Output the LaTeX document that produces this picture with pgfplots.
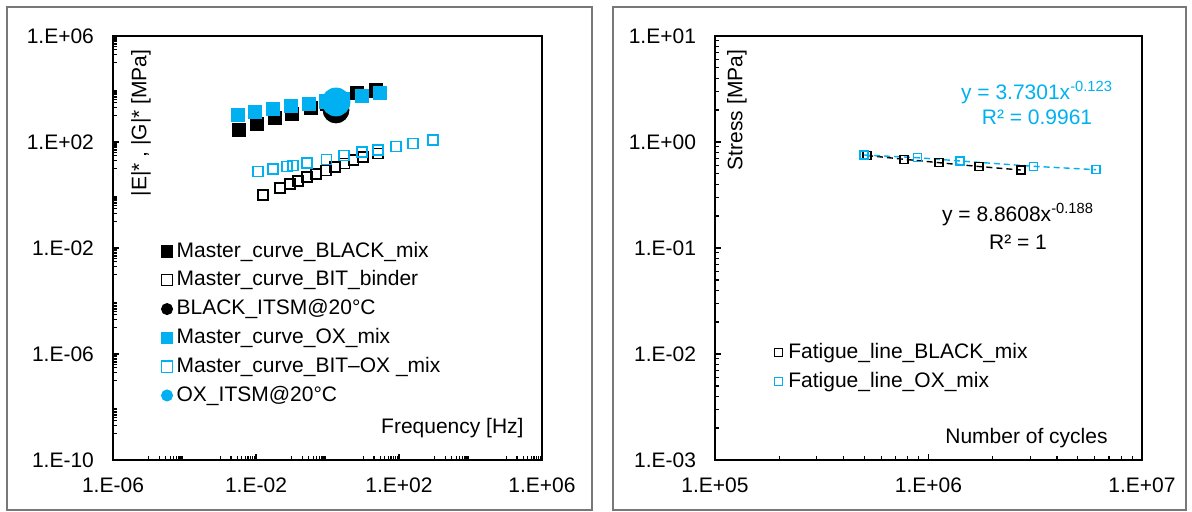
\documentclass[border=0pt]{standalone}
\usepackage{fontspec}
\setmainfont{Liberation Sans}
\usepackage{pgfplots}
\pgfplotsset{compat=1.18}
\definecolor{xblue}{RGB}{0,176,240}
\definecolor{framegray}{RGB}{120,120,120}
\newcommand\lf{\fontsize{10.5}{12.6}\selectfont}
\begin{document}
\begin{tikzpicture}
\path[use as bounding box] (0pt,0pt) rectangle (596pt,256pt);
\draw[framegray, line width=0.75pt] (3.5pt,1pt) rectangle (296pt,252.5pt);
\draw[framegray, line width=0.75pt] (306.5pt,1pt) rectangle (593pt,252.5pt);

% ---------------- left chart ----------------
\begin{axis}[xmode=log, ymode=log, scale only axis,
  at={(56.5pt,26pt)}, anchor=south west, width=214.5pt, height=212pt,
  axis line style={line width=0.9pt},
  tick style={black, line width=0.6pt},
  major tick length=3pt, minor tick length=2pt,
  tick pos=left,
  ticklabel style={font=\lf},
  yticklabel style={xshift=-6pt},
  xticklabel style={yshift=-5.5pt},
  xmin=1e-6, xmax=1e6, ymin=1e-10, ymax=1e6,
  xtick={1e-6,1e-2,1e2,1e6}, xticklabels={1.E-06,1.E-02,1.E+02,1.E+06},
  ytick={1e-10,1e-6,1e-2,1e2,1e6}, yticklabels={1.E-10,1.E-06,1.E-02,1.E+02,1.E+06},
  minor xtick={1e-5,2e-5,3e-5,4e-5,5e-5,6e-5,7e-5,8e-5,9e-5,
    1e-3,2e-3,3e-3,4e-3,5e-3,6e-3,7e-3,8e-3,9e-3,
    0.1,0.2,0.3,0.4,0.5,0.6,0.7,0.8,0.9,
    10,20,30,40,50,60,70,80,90,
    1e3,2e3,3e3,4e3,5e3,6e3,7e3,8e3,9e3,
    1e5,2e5,3e5,4e5,5e5,6e5,7e5,8e5,9e5},
  minor ytick={1e-9,2e-9,3e-9,4e-9,5e-9,6e-9,7e-9,8e-9,9e-9,
    1e-7,2e-7,3e-7,4e-7,5e-7,6e-7,7e-7,8e-7,9e-7,
    1e-5,2e-5,3e-5,4e-5,5e-5,6e-5,7e-5,8e-5,9e-5,
    1e-3,2e-3,3e-3,4e-3,5e-3,6e-3,7e-3,8e-3,9e-3,
    0.1,0.2,0.3,0.4,0.5,0.6,0.7,0.8,0.9,
    10,20,30,40,50,60,70,80,90,
    1e3,2e3,3e3,4e3,5e3,6e3,7e3,8e3,9e3,
    1e5,2e5,3e5,4e5,5e5,6e5,7e5,8e5,9e5},
  legend cell align=left,
  legend style={at={(0.112,0.522)}, anchor=north west, draw=none, fill=none, inner sep=0pt,
    font=\lf, column sep=1pt, row sep=2pt, nodes={inner sep=1pt, text height=8pt, text depth=2.4pt}},
  legend image code/.code={\draw[#1, mark size=2.8pt] plot coordinates {(0pt,0pt)};},
]
\addplot[only marks, mark=square*, black, mark size=3.3pt] coordinates {
 (3.34e-3,284) (0.01067,478) (0.0340,805) (0.1016,1140) (0.345,1919)
 (0.968,2692) (2.55,4169) (6.68,7063) (22.7,8913)};
\addlegendentry{Master\_curve\_BLACK\_mix}
\addplot[only marks, mark=square, black, mark size=2.5pt, line width=0.6pt] coordinates {
 (0.0157,1.0) (0.0469,1.837) (0.0893,2.60) (0.1496,3.37) (0.267,4.78) (0.476,6.19)
 (0.908,8.41) (1.622,11.40) (2.99,15.45) (5.33,20.9) (9.84,27.2) (25.9,36.8)};
\addlegendentry{Master\_curve\_BIT\_binder}
\addplot[only marks, mark=*, black, mark size=6.5pt] coordinates {(1.73,1614)};
\addlegendentry{BLACK\_ITSM@20°C}
\addplot[only marks, mark=square*, xblue, mark size=3.3pt] coordinates {
 (3.14e-3,1045) (9.38e-3,1355) (0.0299,1758) (0.0953,2280) (0.304,2716)
 (0.908,3388) (2.72,4266) (9.23,5445) (29.4,7063)};
\addlegendentry{Master\_curve\_OX\_mix}
\addplot[only marks, mark=square, xblue, mark size=2.5pt, line width=0.6pt] coordinates {
 (0.01138,7.57) (0.0299,9.57) (0.0736,11.89) (0.1084,12.97) (0.267,16.14) (0.938,21.9)
 (2.90,30.97) (9.23,42.0) (25.9,49.9) (82.4,67.6) (246.6,87.7) (893,118.9)};
\addlegendentry{Master\_curve\_BIT–OX \_mix}
\addplot[only marks, mark=*, xblue, mark size=7pt] coordinates {(1.73,3236)};
\addlegendentry{OX\_ITSM@20°C}
\end{axis}
\node[rotate=90, font=\lf, inner sep=0pt] at (70.5pt,194.5pt) {|E|* , |G|* [MPa]};
\node[anchor=east, font=\lf, inner sep=0pt] at (262pt,42pt) {Frequency [Hz]};

% ---------------- right chart ----------------
\begin{axis}[xmode=log, ymode=log, scale only axis,
  at={(357.5pt,26pt)}, anchor=south west, width=213.5pt, height=212pt,
  axis line style={line width=0.9pt},
  tick style={black, line width=0.6pt},
  major tick length=3pt, minor tick length=2pt,
  tick pos=left,
  ticklabel style={font=\lf},
  yticklabel style={xshift=-6pt},
  xticklabel style={yshift=-5.5pt},
  xmin=1e5, xmax=1e7, ymin=1e-3, ymax=10,
  xtick={1e5,1e6,1e7}, xticklabels={1.E+05,1.E+06,1.E+07},
  ytick={1e-3,1e-2,1e-1,1,10}, yticklabels={1.E-03,1.E-02,1.E-01,1.E+00,1.E+01},
  minor xtick={2e5,3e5,4e5,5e5,6e5,7e5,8e5,9e5,2e6,3e6,4e6,5e6,6e6,7e6,8e6,9e6},
  minor ytick={2e-3,3e-3,4e-3,5e-3,6e-3,7e-3,8e-3,9e-3,0.02,0.03,0.04,0.05,0.06,0.07,0.08,0.09,0.2,0.3,0.4,0.5,0.6,0.7,0.8,0.9,2,3,4,5,6,7,8,9},
  legend cell align=left,
  legend style={at={(0.138,0.283)}, anchor=north west, draw=none, fill=none, inner sep=0pt,
    font=\lf, column sep=2pt, row sep=2pt, nodes={inner sep=1pt, text height=8pt, text depth=2.4pt}},
  legend image code/.code={\draw[#1] plot coordinates {(0pt,0pt)};},
]
\addplot[black, dash pattern=on 3pt off 2pt, line width=0.7pt, mark=square, mark size=2pt,
  mark options={solid, line width=0.6pt}] coordinates {
 (515000,0.746) (768000,0.687) (1.12e6,0.638) (1.724e6,0.587) (2.71e6,0.544)};
\addlegendentry{Fatigue\_line\_BLACK\_mix}
\addplot[xblue, dash pattern=on 3pt off 2pt, line width=0.7pt, mark=square, mark size=2pt,
  mark options={solid, line width=0.6pt}] coordinates {
 (499000,0.754) (888000,0.711) (1.405e6,0.662) (3.09e6,0.590) (6.09e6,0.548)};
\addlegendentry{Fatigue\_line\_OX\_mix}
\end{axis}
\node[rotate=90, font=\lf, inner sep=0pt] at (368.5pt,201pt) {Stress [MPa]};
\node[font=\lf, text=xblue, inner sep=0pt] at (518.5pt,209.5pt) {y = 3.7301x\textsuperscript{-0.123}};
\node[font=\lf, text=xblue, inner sep=0pt] at (518.5pt,197.5pt) {R² = 0.9961};
\node[font=\lf, inner sep=0pt] at (509pt,148.5pt) {y = 8.8608x\textsuperscript{-0.188}};
\node[font=\lf, inner sep=0pt] at (509pt,135pt) {R² = 1};
\node[anchor=east, font=\lf, inner sep=0pt] at (554pt,37pt) {Number of cycles};
\end{tikzpicture}
\end{document}
